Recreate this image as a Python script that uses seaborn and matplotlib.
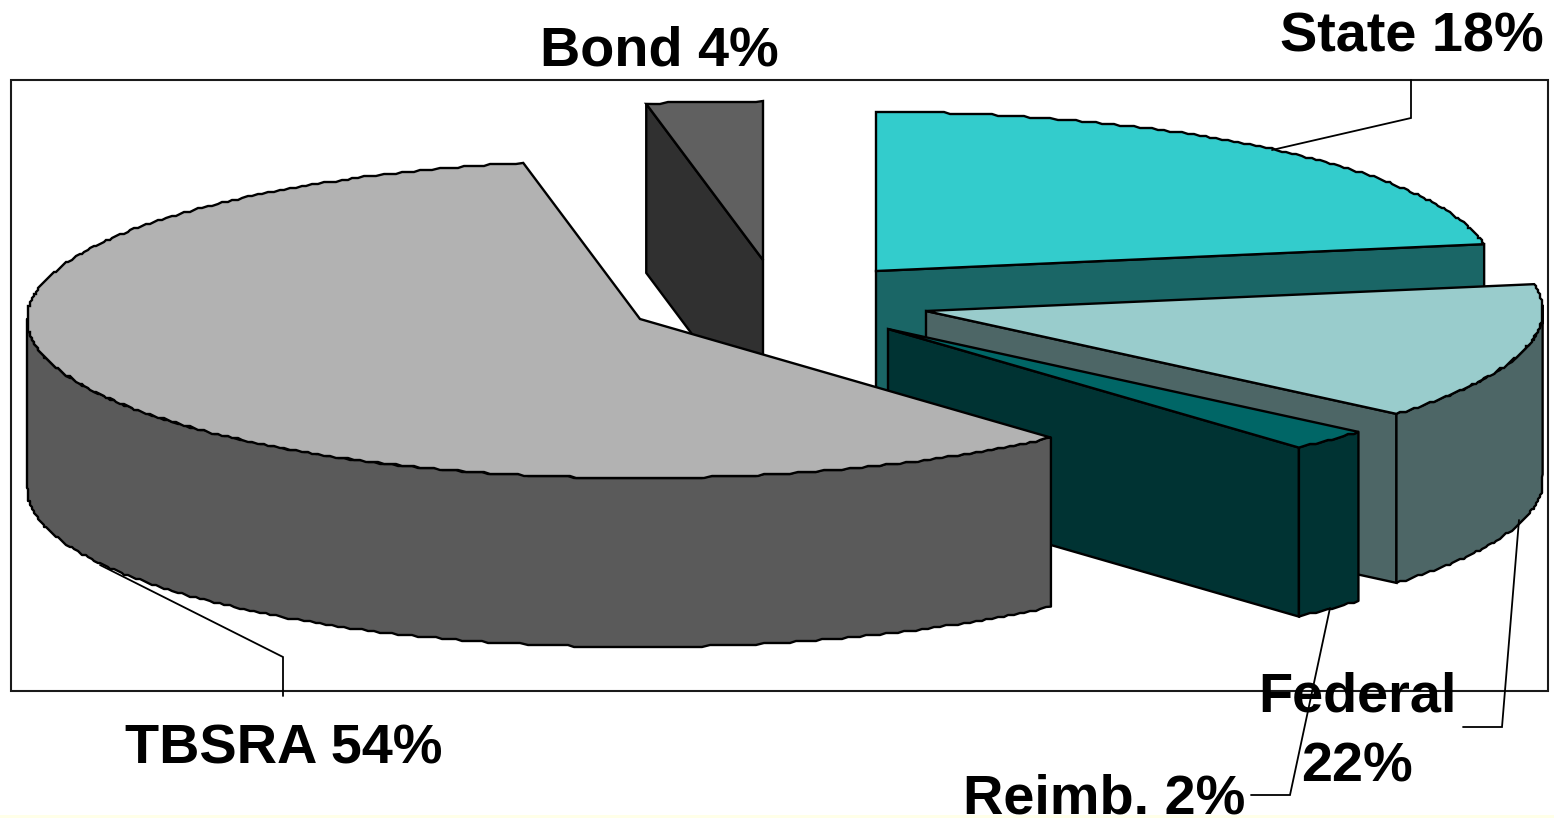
import numpy as np
import matplotlib
matplotlib.use("Agg")
import matplotlib.pyplot as plt
from matplotlib.patches import Rectangle
import seaborn as sns

# Data: the slices' drawn shares (%), in clockwise order
# from the top, and their printed labels, which differ from the drawn shares.
categories = ["State", "Federal", "Reimb.", "TBSRA", "Bond"]
drawn_share = [22.3, 13.9, 2.2, 58.55, 3.05]
printed_labels = ["State 18%", "Federal\n22%", "Reimb. 2%", "TBSRA 54%", "Bond 4%"]
top_colors = ["#33CCCC", "#99CCCC", "#006666", "#B2B2B2", "#606060"]
side_colors = ["#1A6666", "#4D6666", "#003333", "#5A5A5A", "#303030"]

# Layout (pixel space)
W, H = 1554, 818
RX_LEFT, RX_RIGHT, RY, DEPTH = 613, 617, 159, 169
apex = {"State": (876, 271), "Federal": (926, 311), "Reimb.": (888, 329),
        "TBSRA": (640, 319), "Bond": (763, 260)}
label_pos = {"State": (1412, 52), "Federal": (1357, 782), "Reimb.": (1104, 813),
             "TBSRA": (284, 764), "Bond": (659, 66)}
draw_order = ["State", "Bond", "Federal", "Reimb.", "TBSRA"]
leaders = {"State": ([1272, 1411, 1411], [150, 118, 80]),
           "Federal": ([1519, 1502, 1463], [520, 727, 727]),
           "Reimb.": ([1330, 1290, 1251], [608, 795, 795]),
           "TBSRA": ([100, 283, 283], [565, 657, 696])}

sns.set_theme(style="white")
plt.rcParams["font.family"] = ["Liberation Sans", "DejaVu Sans"]
top_pal = dict(zip(categories, sns.color_palette(top_colors)))
side_pal = dict(zip(categories, sns.color_palette(side_colors)))

fig = plt.figure(figsize=(W / 100, H / 100), dpi=100, facecolor="white")
ax = fig.add_axes([0, 0, 1, 1])
ax.set_xlim(0, W)
ax.set_ylim(H, 0)
ax.axis("off")

ax.axhspan(815, H, color="#FFFFE8", lw=0, zorder=0)
ax.add_patch(Rectangle((11, 80), 1537, 611, fill=False, ec="#1a1a1a", lw=1.5, zorder=1))

edges = np.concatenate([[0], np.cumsum(drawn_share)]) * 3.6
spans = {c: (edges[i], edges[i + 1]) for i, c in enumerate(categories)}
LW = 1.7


def point(c, deg):
    t = np.radians(deg)
    s = np.sin(t)
    return apex[c][0] + np.where(s > 0, RX_RIGHT, RX_LEFT) * s, apex[c][1] - RY * np.cos(t)


def rim(c, t0, t1):
    # the source's rim is a slightly stepped polyline
    x, y = point(c, np.linspace(t0, t1, max(3, int(abs(t1 - t0) * 1.6))))
    x, y = np.round(x / 2) * 2, np.round(y / 2) * 2
    x[0], y[0] = point(c, t0)
    x[-1], y[-1] = point(c, t1)
    return x, y


def wall(x, y, c, z):
    ax.fill(np.r_[x, x[::-1]], np.r_[y, y[::-1] + DEPTH], fc=side_pal[c],
            ec="black", lw=LW, joinstyle="round", zorder=z)


z = 2
for c in draw_order:
    t0, t1 = spans[c]
    cx, cy = apex[c]
    x, y = rim(c, t0, t1)
    # radial cut wall: Bond shows its starting cut, the others their closing cut
    cut = t0 if c == "Bond" else t1
    if c != "TBSRA":
        ex, ey = point(c, cut)
        ax.fill([cx, ex, ex, cx], [cy, ey, ey + DEPTH, cy + DEPTH],
                fc=side_pal[c], ec="black", lw=LW, zorder=z)
    # outer wall where the rim faces the viewer
    if c == "Federal":
        wall(*rim(c, 88, t1), c, z)
    elif c in ("Reimb.", "TBSRA"):
        wall(*rim(c, t0, min(t1, 270)), c, z)
    # top face
    ax.fill(np.r_[cx, x], np.r_[cy, y], fc=top_pal[c], ec="black", lw=LW, zorder=z + 2)
    z += 3

for c, (lx, ly) in leaders.items():
    ax.plot(lx, ly, color="black", lw=1.3, zorder=40, solid_joinstyle="miter")

for c, txt in zip(categories, printed_labels):
    px, py = label_pos[c]
    ax.text(px, py, txt, ha="center", va="baseline", fontsize=40.2, fontweight="bold",
            color="black", linespacing=1.47, zorder=50)

fig.savefig("out.png", dpi=100, facecolor="white")
